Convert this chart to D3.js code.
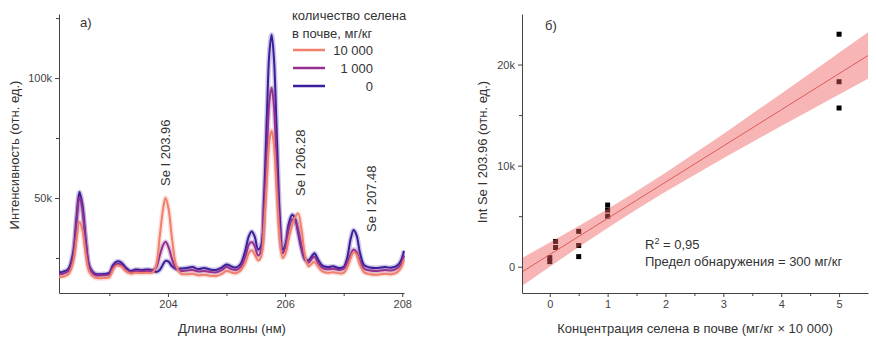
<!DOCTYPE html>
<html>
<head>
<meta charset="utf-8">
<script src="https://cdn.jsdelivr.net/npm/d3@7"></script>
<style>
  body { margin: 0; background: #fff; }
  svg { font-family: "Liberation Sans", Arial, sans-serif; }
  .axis path, .axis line { stroke: #444; }
  .axis text { fill: #444; font-size: 11px; }
  .lbl { fill: #333; font-size: 13px; }
</style>
</head>
<body>
<svg id="chart" width="876" height="345"></svg>
<script>
// ── panel a: spectra (intensity in thousands) ────────────────────────────────
const wavelength = [202.14, 202.20, 202.30, 202.38, 202.44, 202.49, 202.54, 202.60, 202.66, 202.75, 202.90, 203.00,
  203.06, 203.12, 203.20, 203.28, 203.36, 203.45, 203.55, 203.65, 203.74, 203.80, 203.86, 203.92, 203.96, 204.01,
  204.07, 204.14, 204.22, 204.32, 204.42, 204.52, 204.62, 204.72, 204.82, 204.92, 205.00, 205.08, 205.16, 205.24,
  205.32, 205.38, 205.43, 205.48, 205.54, 205.59, 205.64, 205.69, 205.73, 205.77, 205.81, 205.86, 205.91, 205.96,
  206.01, 206.06, 206.12, 206.17, 206.22, 206.28, 206.34, 206.40, 206.45, 206.50, 206.56, 206.63, 206.72, 206.82,
  206.92, 207.00, 207.06, 207.12, 207.17, 207.22, 207.28, 207.35, 207.45, 207.58, 207.70, 207.82, 207.92, 207.98, 208.03];

const se0 = [19.0, 19.2, 20.5, 27.0, 42.0, 52.5, 47.0, 32.0, 21.5, 18.5, 18.3, 18.8,
  22.0, 23.5, 23.2, 21.0, 19.6, 20.2, 20.0, 20.2, 19.8, 19.2, 20.0, 22.5, 23.8, 23.5,
  21.5, 20.5, 20.6, 20.8, 21.2, 20.4, 20.8, 20.2, 20.0, 21.0, 22.3, 21.5, 21.0, 22.5,
  28.0, 34.0, 36.0, 34.0, 28.5, 30.0, 50.0, 85.0, 110.0, 118.0, 108.0, 75.0, 42.0, 28.5,
  31.0, 39.0, 43.0, 41.5, 36.0, 29.0, 24.5, 24.0, 25.5, 27.0, 24.5, 22.0, 21.2, 21.5,
  20.8, 21.2, 25.0, 33.0, 36.7, 34.5, 27.0, 22.0, 21.0, 20.8, 21.2, 21.0, 22.0, 24.0, 28.0];

const se1000 = [18.2, 18.4, 19.5, 25.5, 40.0, 50.5, 45.0, 30.5, 21.0, 18.0, 17.8, 18.2,
  21.0, 22.5, 22.2, 20.2, 19.2, 19.6, 19.5, 19.6, 19.8, 21.0, 26.0, 30.5, 31.8, 29.5,
  24.5, 20.5, 19.6, 19.8, 20.0, 19.4, 19.6, 19.2, 19.0, 20.0, 21.2, 20.4, 20.0, 21.2,
  25.5, 30.5, 31.7, 30.0, 26.0, 28.0, 45.0, 70.0, 90.0, 96.0, 88.0, 62.0, 37.0, 27.0,
  30.0, 37.0, 41.0, 40.5, 37.0, 30.0, 24.5, 23.0, 24.5, 25.5, 23.0, 21.0, 20.3, 20.5,
  20.0, 20.5, 23.0, 26.5, 28.5, 27.5, 23.5, 20.5, 19.8, 19.6, 20.0, 19.8, 20.8, 22.5, 26.0];

const se10000 = [17.0, 17.2, 18.2, 23.0, 33.0, 40.0, 36.5, 26.0, 19.0, 16.8, 16.6, 17.0,
  20.0, 21.8, 21.5, 19.5, 18.5, 18.8, 18.7, 18.8, 19.0, 22.0, 34.0, 46.0, 50.0, 45.5,
  33.0, 22.0, 18.5, 18.2, 18.4, 17.8, 18.0, 17.6, 17.5, 18.4, 19.6, 19.0, 18.6, 19.8,
  23.0, 27.0, 28.2, 26.5, 24.0, 25.5, 38.0, 58.0, 73.5, 78.0, 72.0, 52.0, 33.0, 25.0,
  27.0, 33.0, 38.5, 42.0, 43.5, 37.0, 26.0, 21.5, 22.5, 23.3, 21.5, 19.5, 18.8, 19.0,
  18.6, 18.8, 21.0, 25.0, 27.5, 26.5, 22.0, 19.0, 18.2, 18.0, 18.4, 18.2, 19.2, 21.0, 24.5];

const seriesNames  = ["10 000", "1 000", "0"];
const seriesColors = ["#f07f6c", "#94308f", "#3a1e9c"];
const peakLabels   = [{ w: 203.96, t: "Se I 203.96", y: 186 }, { w: 206.28, t: "Se I 206.28", y: 196 }, { w: 207.48, t: "Se I 207.48", y: 232 }];

// ── panel б: calibration (intensity in thousands) ────────────────────────────
const concX     = [0, 0, 0.1, 0.1, 0.5, 0.5, 0.5, 1, 1, 1, 5, 5, 5];
const intY      = [0.9, 0.5, 2.5, 1.9, 3.5, 2.1, 1.0, 6.1, 5.6, 5.0, 23.0, 18.3, 15.7];
const bandX     = [-0.48, 0, 0.5, 1, 1.5, 2, 3, 4, 5, 5.5];
const bandFit   = [-0.52, 1.2, 2.99, 4.78, 6.57, 8.36, 11.94, 15.52, 19.1, 20.89];
const bandLow   = [-1.9, 0.0, 1.95, 3.84, 5.67, 7.42, 10.74, 13.92, 17.04, 18.59];
const bandHigh  = [0.86, 2.4, 4.03, 5.72, 7.47, 9.3, 13.14, 17.12, 21.16, 23.19];

const svg = d3.select("#chart");

// ─── left panel ──────────────────────────────────────────────────────────────
const xA = d3.scaleLinear().domain([202.14, 208.03]).range([59, 404]);
const yA = d3.scaleLinear().domain([10.4, 126.7]).range([293, 14]);

const gA = svg.append("g");
gA.append("g").attr("class", "axis").attr("transform", "translate(0,293)")
  .call(d3.axisBottom(xA).tickValues([204, 206, 208]).tickSize(4).tickSizeOuter(0).tickFormat(d3.format("d")));
gA.append("g").attr("class", "axis").attr("transform", "translate(0,293)")
  .call(d3.axisBottom(xA).tickValues([203, 205, 207]).tickSize(3).tickSizeOuter(0).tickFormat(""))
  .call(g => g.select(".domain").remove());
gA.append("g").attr("class", "axis").attr("transform", "translate(59,0)")
  .call(d3.axisLeft(yA).tickValues([50, 100]).tickSize(4).tickSizeOuter(0).tickFormat(d => `${d}k`));
gA.append("g").attr("class", "axis").attr("transform", "translate(59,0)")
  .call(d3.axisLeft(yA).tickValues([25, 75, 125]).tickSize(3).tickSizeOuter(0).tickFormat(""))
  .call(g => g.select(".domain").remove());

const spectra = [se10000, se1000, se0];
const line = (arr) => d3.line().x((_, i) => xA(wavelength[i])).y(d => yA(d)).curve(d3.curveCatmullRom)(arr);
svg.append("clipPath").attr("id", "clipA").append("rect").attr("x", 59).attr("y", 14).attr("width", 346).attr("height", 279);
const plotA = gA.append("g").attr("clip-path", "url(#clipA)");
// draw 0 first, then 1 000, then 10 000 on top; a faint wide stroke gives the soft halo
[2, 1, 0].forEach(k => {
  plotA.append("path").attr("d", line(spectra[k])).attr("fill", "none")
    .attr("stroke", seriesColors[k]).attr("stroke-width", 5).attr("stroke-opacity", 0.25);
});
[2, 1, 0].forEach(k => {
  plotA.append("path").attr("d", line(spectra[k])).attr("fill", "none")
    .attr("stroke", seriesColors[k]).attr("stroke-width", 2).attr("stroke-linejoin", "round");
});

peakLabels.forEach(p => {
  gA.append("text").attr("class", "lbl").attr("transform", `translate(${xA(p.w) + 4},${p.y}) rotate(-90)`)
    .attr("text-anchor", "start").text(p.t);
});

gA.append("text").attr("class", "lbl").attr("x", 80).attr("y", 27).text("а)");
gA.append("text").attr("class", "lbl").attr("transform", "translate(19,155) rotate(-90)").attr("text-anchor", "middle").text("Интенсивность (отн. ед.)");
gA.append("text").attr("class", "lbl").attr("x", 232).attr("y", 333).attr("text-anchor", "middle").text("Длина волны (нм)");

// legend
gA.append("text").attr("class", "lbl").attr("x", 292).attr("y", 20).text("количество селена");
gA.append("text").attr("class", "lbl").attr("x", 292).attr("y", 38).text("в почве, мг/кг");
seriesNames.forEach((n, i) => {
  const ly = 50 + i * 18;
  gA.append("line").attr("x1", 293).attr("x2", 325).attr("y1", ly).attr("y2", ly).attr("stroke", seriesColors[i]).attr("stroke-width", 2.5);
  gA.append("text").attr("class", "lbl").attr("x", 373).attr("y", ly + 4.5).attr("text-anchor", "end").text(n);
});

// ─── right panel ─────────────────────────────────────────────────────────────
const xB = d3.scaleLinear().domain([-0.48, 5.5]).range([522, 868]);
const yB = d3.scaleLinear().domain([-2.6, 25]).range([293, 14]);

const gB = svg.append("g");
gB.append("g").attr("class", "axis").attr("transform", "translate(0,293)")
  .call(d3.axisBottom(xB).tickValues([0, 1, 2, 3, 4, 5]).tickSize(4).tickSizeOuter(0).tickFormat(d3.format("d")));
gB.append("g").attr("class", "axis").attr("transform", "translate(0,293)")
  .call(d3.axisBottom(xB).tickValues([0.5, 1.5, 2.5, 3.5, 4.5]).tickSize(3).tickSizeOuter(0).tickFormat(""))
  .call(g => g.select(".domain").remove());
gB.append("g").attr("class", "axis").attr("transform", "translate(522,0)")
  .call(d3.axisLeft(yB).tickValues([0, 10, 20]).tickSize(4).tickSizeOuter(0).tickFormat(d => d ? `${d}k` : "0"));
gB.append("g").attr("class", "axis").attr("transform", "translate(522,0)")
  .call(d3.axisLeft(yB).tickValues([5, 15]).tickSize(3).tickSizeOuter(0).tickFormat(""))
  .call(g => g.select(".domain").remove());

svg.append("clipPath").attr("id", "clipB").append("rect").attr("x", 523).attr("y", 14).attr("width", 346).attr("height", 279);
const plotB = gB.append("g").attr("clip-path", "url(#clipB)");

// points first: the translucent band sits on top and tints the ones inside it
plotB.selectAll("rect.pt").data(concX).join("rect").attr("class", "pt")
  .attr("x", d => xB(d) - 2.5).attr("y", (_, i) => yB(intY[i]) - 2.5).attr("width", 5).attr("height", 5).attr("fill", "#000");

const area = d3.area().x((_, i) => xB(bandX[i])).y0((_, i) => yB(bandLow[i])).y1(d => yB(d));
plotB.append("path").attr("d", area(bandHigh)).attr("fill", "#f05a5a").attr("fill-opacity", 0.45);
plotB.append("path").attr("d", d3.line().x((_, i) => xB(bandX[i])).y(d => yB(d))(bandFit))
  .attr("fill", "none").attr("stroke", "#e05a5a").attr("stroke-width", 1);

gB.append("text").attr("class", "lbl").attr("x", 545).attr("y", 30).text("б)");
gB.append("text").attr("class", "lbl").attr("transform", "translate(487,152) rotate(-90)").attr("text-anchor", "middle").text("Int Se I 203.96 (отн. ед.)");
gB.append("text").attr("class", "lbl").attr("x", 695).attr("y", 333).attr("text-anchor", "middle").text("Концентрация селена в почве (мг/кг × 10 000)");
const r2 = gB.append("text").attr("class", "lbl").attr("x", 645).attr("y", 249);
r2.append("tspan").text("R");
r2.append("tspan").attr("dy", -5).attr("font-size", 9).text("2");
r2.append("tspan").attr("dy", 5).text(" = 0,95");
gB.append("text").attr("class", "lbl").attr("x", 645).attr("y", 266).text("Предел обнаружения = 300 мг/кг");
</script>
</body>
</html>
